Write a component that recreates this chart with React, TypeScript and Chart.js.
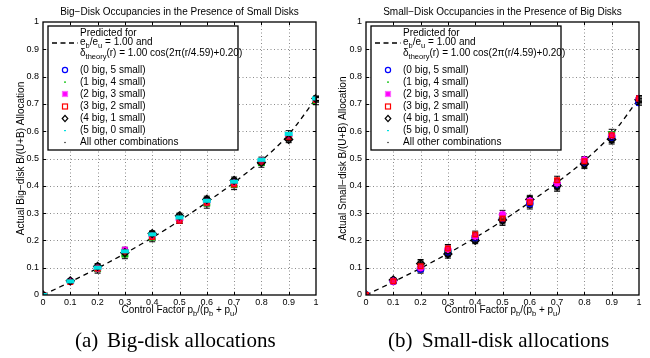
import React, { useEffect, useRef } from 'react';
import { Chart, registerables } from 'chart.js';
Chart.register(...registerables);

const xs = [0, 0.1, 0.2, 0.3, 0.4, 0.5, 0.6, 0.7, 0.8, 0.9, 1.0];
const tickValues = [0, 0.1, 0.2, 0.3, 0.4, 0.5, 0.6, 0.7, 0.8, 0.9, 1.0];
const predicted = [0, 0.048, 0.098, 0.152, 0.21, 0.272, 0.34, 0.412, 0.492, 0.588, 0.72];

// Big-disk panel (no "0 big" data)
const bigG = [0, 0.05, 0.09, 0.143, 0.205, 0.272, 0.33, 0.398, 0.478, 0.578, 0.705];
const bigM = [0, 0.05, 0.098, 0.165, 0.215, 0.275, 0.34, 0.41, 0.49, 0.583, 0.715];
const bigR = [0, 0.048, 0.097, 0.158, 0.212, 0.272, 0.338, 0.405, 0.488, 0.578, 0.715];
const bigK = [0, 0.052, 0.105, 0.155, 0.225, 0.29, 0.35, 0.42, 0.485, 0.57, 0.72];
const bigC = [0, 0.05, 0.1, 0.16, 0.222, 0.284, 0.345, 0.415, 0.495, 0.59, 0.72];
const bigOther = [0, 0.05, 0.095, 0.15, 0.22, 0.28, 0.345, 0.41, 0.49, 0.58, 0.72];
const bigErr = [0, 0.006, 0.01, 0.01, 0.01, 0.01, 0.012, 0.012, 0.01, 0.012, 0.008];

// Small-disk panel (no "0 small" data)
const smallB = [0, 0.05, 0.095, 0.158, 0.21, 0.28, 0.335, 0.405, 0.485, 0.578, 0.705];
const smallG = [0, 0.05, 0.1, 0.16, 0.215, 0.285, 0.345, 0.41, 0.49, 0.595, 0.72];
const smallM = [0, 0.05, 0.1, 0.168, 0.215, 0.295, 0.345, 0.41, 0.495, 0.585, 0.72];
const smallR = [0, 0.05, 0.105, 0.17, 0.222, 0.28, 0.34, 0.42, 0.49, 0.585, 0.72];
const smallK = [0, 0.055, 0.115, 0.15, 0.2, 0.275, 0.35, 0.4, 0.48, 0.57, 0.715];
const smallOther = [0, 0.052, 0.11, 0.155, 0.205, 0.27, 0.33, 0.395, 0.475, 0.565, 0.71];
const smallErr = [0, 0.008, 0.015, 0.015, 0.012, 0.015, 0.015, 0.015, 0.012, 0.012, 0.01];

const legendLabels = [
  '(0 big, 5 small)',
  '(1 big, 4 small)',
  '(2 big, 3 small)',
  '(3 big, 2 small)',
  '(4 big, 1 small)',
  '(5 big, 0 small)',
  'All other combinations',
];

const FONT = "'Liberation Sans', Arial, Helvetica, sans-serif";
const SERIF = "'Liberation Serif', 'Times New Roman', serif";

type Seg = [string, boolean?];

function richWidth(ctx: CanvasRenderingContext2D, segs: Seg[], size: number) {
  let w = 0;
  for (const [t, sub] of segs) {
    ctx.font = `${sub ? size * 0.75 : size}px ${FONT}`;
    w += ctx.measureText(t).width;
  }
  return w;
}

function drawRich(ctx: CanvasRenderingContext2D, segs: Seg[], x: number, y: number, size: number, align: 'left' | 'center') {
  let cx = align === 'center' ? x - richWidth(ctx, segs, size) / 2 : x;
  ctx.textAlign = 'left';
  ctx.textBaseline = 'middle';
  ctx.fillStyle = '#000';
  for (const [t, sub] of segs) {
    ctx.font = `${sub ? size * 0.75 : size}px ${FONT}`;
    ctx.fillText(t, cx, sub ? y + 3.5 : y);
    cx += ctx.measureText(t).width;
  }
}

function ds(values: number[], label: string, style: any, errs: number[] | null) {
  return {
    label,
    data: xs.map((x, i) => ({ x, y: values[i] })),
    showLine: false,
    errs,
    ...style,
  };
}

const styles: Record<string, any> = {
  blue: { pointStyle: 'circle', pointRadius: 3.2, borderColor: '#0000ff', backgroundColor: 'rgba(0,0,0,0)', borderWidth: 1.3 },
  green: { pointStyle: 'line', pointRadius: 3.5, borderColor: '#00c000', backgroundColor: '#00c000', borderWidth: 3 },
  magenta: { pointStyle: 'star', pointRadius: 3.8, borderColor: '#ff00ff', backgroundColor: '#ff00ff', borderWidth: 2 },
  red: { pointStyle: 'rect', pointRadius: 3.3, borderColor: '#ff0000', backgroundColor: 'rgba(255,0,0,0.6)', borderWidth: 1.3 },
  black: { pointStyle: 'rectRot', pointRadius: 4, borderColor: '#000', backgroundColor: 'rgba(0,0,0,0.25)', borderWidth: 1.3 },
  cyan: { pointStyle: 'line', pointRadius: 4, borderColor: '#00e0e0', backgroundColor: '#00e0e0', borderWidth: 4 },
  other: { pointStyle: 'rect', pointRadius: 2.8, borderColor: '#111', backgroundColor: '#111', borderWidth: 1 },
};

function drawLegendMarker(ctx: CanvasRenderingContext2D, i: number, x: number, y: number) {
  ctx.save();
  ctx.setLineDash([]);
  ctx.lineWidth = 1.2;
  if (i === 0) {
    ctx.strokeStyle = '#0000ff';
    ctx.beginPath();
    ctx.arc(x, y, 2.6, 0, Math.PI * 2);
    ctx.stroke();
  } else if (i === 1) {
    ctx.fillStyle = '#00c000';
    ctx.fillRect(x - 1, y - 0.5, 2, 1.2);
  } else if (i === 2) {
    ctx.fillStyle = '#ff00ff';
    ctx.fillRect(x - 2, y - 2, 4, 4);
    ctx.strokeStyle = '#ff66ff';
    ctx.strokeRect(x - 2.5, y - 2.5, 5, 5);
  } else if (i === 3) {
    ctx.strokeStyle = '#ff0000';
    ctx.strokeRect(x - 2.5, y - 2.5, 5, 5);
  } else if (i === 4) {
    ctx.strokeStyle = '#000';
    ctx.beginPath();
    ctx.moveTo(x, y - 3.2);
    ctx.lineTo(x + 2.8, y);
    ctx.lineTo(x, y + 3.2);
    ctx.lineTo(x - 2.8, y);
    ctx.closePath();
    ctx.stroke();
  } else if (i === 5) {
    ctx.fillStyle = '#00e0e0';
    ctx.fillRect(x - 1, y - 0.5, 2, 1.2);
  } else {
    ctx.fillStyle = '#000';
    ctx.fillRect(x - 0.6, y - 0.6, 1.2, 1.2);
  }
  ctx.restore();
}

interface PanelProps {
  title: string;
  yTitle: string;
  datasets: any[];
  yWidth: number;
  padRight: number;
  yTitleX: number;
  capLabel: string;
  capText: string;
  capLabelX: number;
  capTextX: number;
}

function Panel(p: PanelProps) {
  const ref = useRef<HTMLCanvasElement | null>(null);
  useEffect(() => {
    if (!ref.current) return;
    const decor = {
      id: 'decor',
      beforeDatasetsDraw(chart: any) {
        const { ctx, chartArea: a, scales } = chart;
        const xS = scales.x, yS = scales.y;
        ctx.save();
        ctx.strokeStyle = '#8a8a8a';
        ctx.lineWidth = 1;
        ctx.setLineDash([1, 2.5]);
        for (let i = 1; i < tickValues.length - 1; i++) {
          const px = Math.round(xS.getPixelForValue(tickValues[i])) + 0.5;
          ctx.beginPath();
          ctx.moveTo(px, a.top);
          ctx.lineTo(px, a.bottom);
          ctx.stroke();
          const py = Math.round(yS.getPixelForValue(tickValues[i])) + 0.5;
          ctx.beginPath();
          ctx.moveTo(a.left, py);
          ctx.lineTo(a.right, py);
          ctx.stroke();
        }
        ctx.setLineDash([]);
        // error bars
        ctx.strokeStyle = '#000';
        ctx.lineWidth = 1;
        chart.data.datasets.forEach((d: any) => {
          if (!d.errs) return;
          d.data.forEach((pt: any, i: number) => {
            const e = d.errs[i];
            if (!e) return;
            const px = xS.getPixelForValue(pt.x);
            const y1 = yS.getPixelForValue(pt.y - e);
            const y2 = yS.getPixelForValue(pt.y + e);
            ctx.beginPath();
            ctx.moveTo(px, y1);
            ctx.lineTo(px, y2);
            ctx.moveTo(px - 3, y1);
            ctx.lineTo(px + 3, y1);
            ctx.moveTo(px - 3, y2);
            ctx.lineTo(px + 3, y2);
            ctx.stroke();
          });
        });
        ctx.restore();
      },
      afterDraw(chart: any) {
        const { ctx, chartArea: a, scales } = chart;
        const xS = scales.x, yS = scales.y;
        ctx.save();
        // box
        ctx.strokeStyle = '#000';
        ctx.lineWidth = 1.3;
        ctx.setLineDash([]);
        ctx.strokeRect(a.left, a.top, a.right - a.left, a.bottom - a.top);
        ctx.lineWidth = 1;
        for (let i = 1; i < tickValues.length - 1; i++) {
          const px = Math.round(xS.getPixelForValue(tickValues[i])) + 0.5;
          ctx.beginPath();
          ctx.moveTo(px, a.bottom);
          ctx.lineTo(px, a.bottom - 3);
          ctx.moveTo(px, a.top);
          ctx.lineTo(px, a.top + 3);
          ctx.stroke();
          const py = Math.round(yS.getPixelForValue(tickValues[i])) + 0.5;
          ctx.beginPath();
          ctx.moveTo(a.left, py);
          ctx.lineTo(a.left + 3, py);
          ctx.moveTo(a.right, py);
          ctx.lineTo(a.right - 3, py);
          ctx.stroke();
        }
        const cx = (a.left + a.right) / 2;
        // title
        ctx.fillStyle = '#000';
        ctx.font = `10px ${FONT}`;
        ctx.textAlign = 'center';
        ctx.textBaseline = 'middle';
        ctx.fillText(p.title, cx, 12);
        // x title
        drawRich(ctx, [['Control Factor p'], ['b', true], ['/(p'], ['b', true], [' + p'], ['u', true], [')']], cx, 310, 10, 'center');
        // y title
        ctx.save();
        ctx.translate(p.yTitleX, (a.top + a.bottom) / 2);
        ctx.rotate(-Math.PI / 2);
        ctx.font = `10px ${FONT}`;
        ctx.textAlign = 'center';
        ctx.textBaseline = 'middle';
        ctx.fillText(p.yTitle, 0, 0);
        ctx.restore();
        // legend
        const lx = a.left + 5, ly = 26, lw = 190, lh = 124;
        ctx.fillStyle = '#fff';
        ctx.fillRect(lx, ly, lw, lh);
        ctx.strokeStyle = '#000';
        ctx.lineWidth = 1.3;
        ctx.strokeRect(lx, ly, lw, lh);
        ctx.lineWidth = 1.4;
        ctx.setLineDash([5, 3.5]);
        ctx.beginPath();
        ctx.moveTo(lx + 4, 43);
        ctx.lineTo(lx + 30, 43);
        ctx.stroke();
        ctx.setLineDash([]);
        const tx = lx + 32;
        drawRich(ctx, [['Predicted for']], tx, 33, 10, 'left');
        drawRich(ctx, [['e'], ['b', true], ['/e'], ['u', true], [' = 1.00 and']], tx, 42, 10, 'left');
        drawRich(ctx, [['\u03b4'], ['theory', true], ['(r) = 1.00 cos(2\u03c0(r/4.59)+0.20)']], tx, 53, 10, 'left');
        const rows = [70, 82, 94, 106.5, 118.5, 130.5, 142.5];
        legendLabels.forEach((lab, i) => {
          drawLegendMarker(ctx, i, lx + 17, rows[i]);
          drawRich(ctx, [[lab]], tx, rows[i], 10, 'left');
        });
        // caption
        ctx.fillStyle = '#000';
        ctx.font = `21px ${SERIF}`;
        ctx.textAlign = 'left';
        ctx.textBaseline = 'alphabetic';
        ctx.fillText(p.capLabel, p.capLabelX, 347);
        ctx.fillText(p.capText, p.capTextX, 347);
        ctx.restore();
      },
    };
    const fmt = (v: any) => {
      const r = Math.round(Number(v) * 10) / 10;
      return r === 0 ? '0' : r === 1 ? '1' : r.toFixed(1);
    };
    const chart = new Chart(ref.current, {
      type: 'scatter',
      data: { datasets: p.datasets },
      plugins: [decor],
      options: {
        animation: false,
        responsive: false,
        devicePixelRatio: 1,
        layout: { padding: { top: 22, right: p.padRight, bottom: 38, left: 0 } },
        plugins: { legend: { display: false }, tooltip: { enabled: false }, title: { display: false } },
        scales: {
          x: {
            type: 'linear',
            min: 0,
            max: 1,
            afterFit: (s: any) => { s.height = 25; },
            afterBuildTicks: (s: any) => { s.ticks = tickValues.map((v) => ({ value: v })); },
            grid: { display: false, drawTicks: false },
            border: { display: false },
            ticks: { padding: 2, autoSkip: false, maxRotation: 0, color: '#000', font: { size: 9, family: FONT }, callback: fmt },
          },
          y: {
            type: 'linear',
            min: 0,
            max: 1,
            afterFit: (s: any) => { s.width = p.yWidth; },
            afterBuildTicks: (s: any) => { s.ticks = tickValues.map((v) => ({ value: v })); },
            grid: { display: false, drawTicks: false },
            border: { display: false },
            ticks: { padding: 4, autoSkip: false, color: '#000', font: { size: 9, family: FONT }, callback: fmt },
          },
        },
      } as any,
    });
    return () => chart.destroy();
  }, []);
  return <canvas ref={ref} width={325} height={358} style={{ display: 'block', width: 325, height: 358 }} />;
}

const predictedDs = {
  label: 'Predicted',
  data: xs.map((x, i) => ({ x, y: predicted[i] })),
  showLine: true,
  borderColor: '#000',
  borderWidth: 1.3,
  borderDash: [5, 4],
  pointRadius: 0,
  cubicInterpolationMode: 'monotone',
  errs: null,
};

export default function App() {
  const bigDatasets = [
    ds(bigC, legendLabels[5], styles.cyan, bigErr),
    ds(bigK, legendLabels[4], styles.black, bigErr),
    ds(bigR, legendLabels[3], styles.red, bigErr),
    ds(bigM, legendLabels[2], styles.magenta, bigErr),
    ds(bigG, legendLabels[1], styles.green, bigErr),
    ds(bigOther, legendLabels[6], styles.other, bigErr),
    predictedDs,
  ];
  const smallDatasets = [
    ds(smallR, legendLabels[3], styles.red, smallErr),
    ds(smallM, legendLabels[2], styles.magenta, smallErr),
    ds(smallK, legendLabels[4], styles.black, smallErr),
    ds(smallG, legendLabels[1], styles.green, smallErr),
    ds(smallB, legendLabels[0], styles.blue, smallErr),
    ds(smallOther, legendLabels[6], styles.other, smallErr),
    { ...predictedDs },
  ];
  return (
    <div style={{ position: 'fixed', left: 0, top: 0, width: 650, height: 358, background: '#fff', display: 'flex' }}>
      <Panel
        title={'Big\u2212Disk Occupancies in the Presence of Small Disks'}
        yTitle={'Actual Big\u2212disk B/(U+B) Allocation'}
        datasets={bigDatasets}
        yWidth={43}
        padRight={9}
        yTitleX={21}
        capLabel="(a)"
        capText="Big-disk allocations"
        capLabelX={75}
        capTextX={107}
      />
      <Panel
        title={'Small\u2212Disk Occupancies in the Presence of Big Disks'}
        yTitle={'Actual Small\u2212disk B/(U+B) Allocation'}
        datasets={smallDatasets}
        yWidth={41}
        padRight={11}
        yTitleX={18}
        capLabel="(b)"
        capText="Small-disk allocations"
        capLabelX={63}
        capTextX={97}
      />
    </div>
  );
}
